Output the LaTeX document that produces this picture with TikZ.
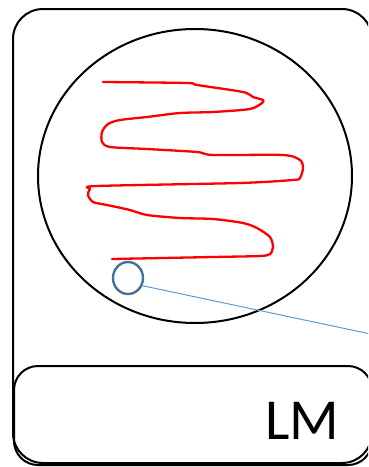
\documentclass[tikz,border=0pt]{standalone}
\usepackage{fontspec}
\setmainfont{Carlito}
\usetikzlibrary{shapes.geometric}

\begin{document}
\begin{tikzpicture}[
    x=1pt, y=-1pt,
    frame/.style={draw=black, line width=2pt, rounded corners=30pt},
    bar/.style={draw=black, line width=2pt, rounded corners=24pt},
    field/.style={draw=black, ellipse, line width=2pt, minimum width=314pt, minimum height=294pt, inner sep=0pt},
    lens/.style={draw=steelblue, ellipse, line width=2.4pt, minimum width=30pt, minimum height=32pt, inner sep=0pt},
    trace/.style={draw=red, line width=2.3pt, line join=round, line cap=round},
    lead/.style={draw=leadblue, line width=1pt},
    tag/.style={font=\fontsize{58}{58}\selectfont, anchor=base, inner sep=0pt}
]
\definecolor{steelblue}{HTML}{41719C}
\definecolor{leadblue}{HTML}{5B9BD5}
\useasboundingbox (0,0) rectangle (368,467);
\clip (0,0) rectangle (368,467);

% outer panel and label bar
\draw[frame] (13,9) rectangle (372,463);
\draw[bar] (14,366) rectangle (372,465);

% field of view
\node[field] (view) at (195,176) {};

% scan path
\draw[trace] plot[smooth, tension=0.45] coordinates {
    (103,82) (187,83) (197,85) (243,92) (253,97) (263,100) (262,103) (250,109)
    (213,112) (180,113) (147,117) (120,120) (108,124) (102,132) (102,142) (110,147)
    (147,149) (197,152) (213,155) (283,155) (300,160) (303,168) (300,178) (293,180)
    (240,183) (97,186) (90,189) (88,195) (93,202) (107,205) (130,210) (147,215)
    (180,218) (213,219) (243,223) (257,228) (270,237) (273,247) (270,254) (260,256)
    (213,257) (112,259)};

% lens marker and lead
\node[lens] (spot) at (128,278) {};
\coordinate (leadEnd) at (380,336);
\draw[lead] (spot.-28) -- (leadEnd);

\node[tag] (lm) at (302,439) {LM};
\end{tikzpicture}
\end{document}
